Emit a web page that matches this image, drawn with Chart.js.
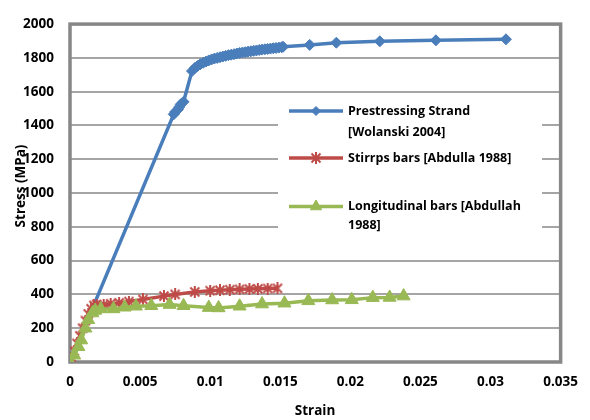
<!DOCTYPE html>
<html lang="en">
<head>
<meta charset="UTF-8">
<title>Stress-strain</title>
<script src="https://cdn.jsdelivr.net/npm/chart.js"></script>
<style>
  html, body { margin: 0; padding: 0; background: #fff; }
  #wrap { width: 590px; height: 420px; position: relative; }
</style>
</head>
<body>
<div id="wrap"><canvas id="grafico"></canvas></div>

<script>
// series names
const seriesNames = [
    ['Prestressing Strand', '[Wolanski 2004]'],
    ['Stirrps bars [Abdulla 1988]'],
    ['Longitudinal bars [Abdullah', '1988]']
];

// prestressing strand (blue)
const strandStrain = [0, 0.0074, 0.0075, 0.0077, 0.0078, 0.0079, 0.0081,
    0.0087, 0.0089, 0.0091, 0.0093, 0.0095, 0.0097, 0.0099, 0.0101, 0.0103, 0.0105,
    0.0107, 0.0109, 0.0111, 0.0113, 0.0115, 0.0117, 0.0119, 0.0121, 0.0123, 0.0125,
    0.0127, 0.0129, 0.0131, 0.0133, 0.0135, 0.0137, 0.0139, 0.0141, 0.0143, 0.0145,
    0.0147, 0.0149, 0.0151, 0.0152, 0.0171, 0.0190, 0.0221, 0.0261, 0.0311];
const strandStress = [0, 1466, 1480, 1495, 1510, 1525, 1540,
    1722, 1740, 1752, 1763, 1771, 1778, 1785, 1791, 1796, 1800,
    1804, 1808, 1812, 1816, 1819, 1822, 1826, 1829, 1832, 1834,
    1837, 1839, 1842, 1844, 1847, 1849, 1851, 1853, 1855, 1857,
    1859, 1861, 1863, 1866, 1877, 1890, 1898, 1904, 1910];

// stirrups (red)
const stirrupStrain = [0, 0.0001, 0.0003, 0.0005, 0.0007, 0.0009, 0.0011, 0.0013, 0.0015,
    0.0017, 0.0019, 0.0024, 0.0029, 0.0035, 0.0042, 0.0052, 0.0067, 0.0075, 0.0089,
    0.0100, 0.0107, 0.0114, 0.0121, 0.0128, 0.0134, 0.0141, 0.0148];
const stirrupStress = [0, 25, 65, 110, 155, 200, 245, 285, 315,
    335, 340, 338, 345, 350, 358, 370, 390, 400, 415,
    422, 425, 428, 430, 432, 433, 435, 436];

// longitudinal bars (green)
const longStrain = [0, 0.0003, 0.0006, 0.0008, 0.0011, 0.0013, 0.0016, 0.0018,
    0.0022, 0.0031, 0.0039, 0.0047, 0.0058, 0.0071, 0.0081, 0.0099, 0.0106, 0.0121,
    0.0137, 0.0153, 0.0170, 0.0187, 0.0201, 0.0216, 0.0228, 0.0238];
const longStress = [0, 40, 90, 130, 200, 250, 290, 305,
    314, 314, 324, 330, 333, 340, 333, 322, 320, 330,
    343, 348, 362, 367, 368, 381, 382, 390];

const xTickLabels = ['0', '0.005', '0.01', '0.015', '0.02', '0.025', '0.03', '0.035'];
const yTickLabels = ['0', '200', '400', '600', '800', '1000', '1200', '1400', '1600', '1800', '2000'];

const fuente = '"Open Sans", Lato, sans-serif';

function puntos(xs, ys) {
    return xs.map((x, i) => ({ x: x, y: ys[i] }));
}

// marcador asterisco estilo Excel (X + linea vertical)
function crearEstrella(tam, color) {
    const c = document.createElement('canvas');
    c.width = tam;
    c.height = tam;
    const g = c.getContext('2d');
    g.strokeStyle = color;
    g.lineWidth = 2;
    g.beginPath();
    g.moveTo(1.5, 1.5); g.lineTo(tam - 1.5, tam - 1.5);
    g.moveTo(tam - 1.5, 1.5); g.lineTo(1.5, tam - 1.5);
    g.moveTo(tam / 2, 0); g.lineTo(tam / 2, tam);
    g.stroke();
    return c;
}
const estrellaRoja = crearEstrella(12, '#BE4B48');

// marco del area de trazado (estilo Excel)
const marcoPlugin = {
    id: 'marco',
    beforeDatasetsDraw(chart) {
        const a = chart.chartArea;
        const ctx = chart.ctx;
        ctx.save();
        ctx.strokeStyle = '#878787';
        ctx.lineWidth = 3.5;
        ctx.strokeRect(a.left, a.top, a.right - a.left, a.bottom - a.top);
        ctx.restore();
    }
};

// leyenda dentro del grafico + titulos de ejes
const leyendaPlugin = {
    id: 'leyenda',
    afterDatasetsDraw(chart) {
        const ctx = chart.ctx;
        ctx.save();
        ctx.fillStyle = '#fff';
        ctx.fillRect(278, 93, 264, 150);
        const filas = [111, 158, 206.5];
        const salto = [21, 0, 19];
        chart.data.datasets.forEach((ds, i) => {
            const y = filas[i];
            ctx.strokeStyle = ds.borderColor;
            ctx.lineWidth = 3.5;
            ctx.beginPath();
            ctx.moveTo(289, y);
            ctx.lineTo(343, y);
            ctx.stroke();
            ctx.fillStyle = ds.pointBackgroundColor;
            ctx.strokeStyle = ds.pointBorderColor;
            ctx.lineWidth = ds.pointBorderWidth;
            Chart.helpers.drawPoint(ctx, {
                pointStyle: ds.pointStyle,
                radius: ds.pointRadius - 1,
                borderWidth: ds.pointBorderWidth,
                rotation: 0
            }, 316, y);
            ctx.fillStyle = '#000';
            ctx.font = 'bold 12.5px ' + fuente;
            ctx.textAlign = 'left';
            ctx.textBaseline = 'middle';
            seriesNames[i].forEach((t, k) => ctx.fillText(t, 348, y + k * salto[i]));
        });
        ctx.restore();
    },
    afterDraw(chart) {
        const ctx = chart.ctx;
        ctx.save();
        ctx.fillStyle = '#000';
        ctx.font = 'bold 13.5px ' + fuente;
        ctx.textAlign = 'center';
        ctx.textBaseline = 'middle';
        ctx.fillText('Strain', 315, 411);
        ctx.translate(21, 186);
        ctx.rotate(-Math.PI / 2);
        ctx.fillText('Stress (MPa)', 0, 0);
        ctx.restore();
    }
};

new Chart(document.getElementById('grafico'), {
    type: 'scatter',
    data: {
        datasets: [{
            label: seriesNames[0].join(' '),
            data: puntos(strandStrain, strandStress),
            showLine: true,
            borderColor: '#4A7EBB',
            borderWidth: 3.5,
            pointStyle: 'rectRot',
            pointRadius: 5.5,
            pointBackgroundColor: '#4A7EBB',
            pointBorderColor: '#4A7EBB',
            pointBorderWidth: 1,
            order: 2
        }, {
            label: seriesNames[1].join(' '),
            data: puntos(stirrupStrain, stirrupStress),
            showLine: true,
            borderColor: '#BE4B48',
            borderWidth: 3.5,
            pointStyle: estrellaRoja,
            pointRadius: 6.5,
            pointBackgroundColor: '#BE4B48',
            pointBorderColor: '#BE4B48',
            pointBorderWidth: 2,
            order: 1
        }, {
            label: seriesNames[2].join(' '),
            data: puntos(longStrain, longStress),
            showLine: true,
            borderColor: '#98B954',
            borderWidth: 3.5,
            pointStyle: 'triangle',
            pointRadius: 7.5,
            pointBackgroundColor: '#98B954',
            pointBorderColor: '#98B954',
            pointBorderWidth: 1,
            order: 0
        }]
    },
    options: {
        responsive: true,
        maintainAspectRatio: false,
        animation: false,
        layout: { padding: { top: 10, right: 28, left: 0, bottom: 0 } },
        plugins: {
            legend: { display: false },
            tooltip: { enabled: false }
        },
        scales: {
            x: {
                type: 'linear',
                min: 0,
                max: 0.035,
                afterFit: s => { s.height = 58; },
                afterBuildTicks: s => { s.ticks = xTickLabels.map((t, i) => ({ value: i * 0.005 })); },
                ticks: {
                    padding: 12,
                    color: '#000',
                    font: { family: fuente, size: 13.5, weight: 'bold' },
                    callback: (v, i) => xTickLabels[i]
                },
                grid: { display: false, drawTicks: false },
                border: { display: false }
            },
            y: {
                min: 0,
                max: 2000,
                afterFit: s => { s.width = 70; },
                afterBuildTicks: s => { s.ticks = yTickLabels.map((t, i) => ({ value: i * 200 })); },
                ticks: {
                    padding: 16,
                    color: '#000',
                    font: { family: fuente, size: 13.5, weight: 'bold' },
                    callback: (v, i) => yTickLabels[i]
                },
                grid: { color: '#A5A5A5', lineWidth: 2, drawTicks: false },
                border: { display: false }
            }
        }
    },
    plugins: [marcoPlugin, leyendaPlugin]
});
</script>
</body>
</html>
